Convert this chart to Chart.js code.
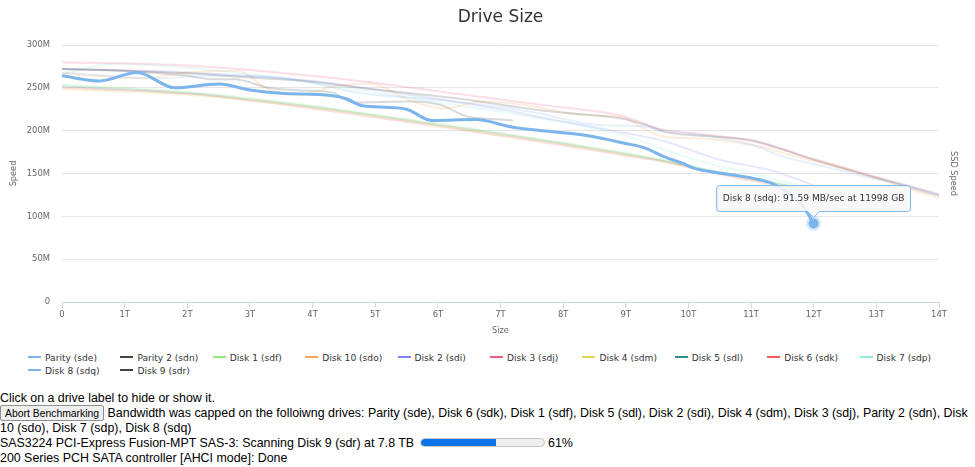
<!DOCTYPE html>
<html><head><meta charset="utf-8">
<script src="https://cdn.jsdelivr.net/npm/chart.js@4.4.0/dist/chart.umd.min.js"></script>
<style>
html,body{margin:0;padding:0;background:#fff;}
body{width:975px;height:467px;overflow:hidden;position:relative;font-family:Arial,"Liberation Sans",sans-serif;font-size:12.4px;color:#000;}
#wrap{position:absolute;left:0;top:0;width:975px;height:345px;}
#legend{position:absolute;left:0;top:345px;width:975px;height:40px;font-family:"DejaVu Sans",sans-serif;font-size:9.1px;color:#333;}
.li{position:absolute;height:13px;line-height:13px;white-space:nowrap;cursor:pointer;}
.li .sym{display:inline-block;width:13px;height:2px;vertical-align:middle;margin-right:4px;position:relative;top:-1px;}
#info{position:absolute;left:0;top:391px;width:975px;line-height:15px;}
#info button{font-family:Arial,"Liberation Sans",sans-serif;font-size:10.4px;height:16px;padding:0 4px;margin:-1px 0 0 0;border:1px solid #8f8f8f;border-radius:2px;background:#efefef;color:#000;vertical-align:top;box-sizing:border-box;line-height:13px;}
.bar{display:inline-block;width:123px;height:7px;border:1px solid #c4c4c4;border-radius:5px;background:#efefef;vertical-align:middle;position:relative;top:-1px;overflow:hidden;margin-left:2px;}
.bar .fill{display:block;height:100%;background:#0a74e8;border-radius:4px 0 0 4px;}
</style></head>
<body>
<div id="wrap"><canvas id="c" width="975" height="345"></canvas></div>
<div id="legend"></div>
<div id="info">
<div id="l1">Click on a drive label to hide or show it.</div>
<div id="l2"><button>Abort Benchmarking</button> <span id="capped"></span></div>
<div id="l3">SAS3224 PCI-Express Fusion-MPT SAS-3: Scanning Disk 9 (sdr) at 7.8 TB <span class="bar"><span class="fill" id="fill"></span></span> <span id="pct"></span></div>
<div id="l4">200 Series PCH SATA controller [AHCI mode]: Done</div>
</div>
<script>
// ---- data (size in GB, speed in MB/sec) ----
const paritySize  = [0,1500,2500,3500,4750,6000,7500,8500,9300,9600,10200,11000,11500,12300,12900,13500,14000];
const paritySpeed = [268,261,264,262,244,236,222,207,205,200,195,184,170,156,145,136,125];

const parity2Size  = [0,1000,2000,3000,4000,4750,6250,7850,8950,9300,9650,10200,11000,12000,13000,14000];
const parity2Speed = [272,270,267,262,257,250,238,222,214,207,198,194,189,166,145,124];

const disk1Size  = [0,2000,4000,4750,6000,7000,8000,9000,9600,10200,11000,12000];
const disk1Speed = [254,245,229,221,208,197,186,174,166,156,145,130];

const disk10Size  = [0,1300,2000,2800,3300,3800,4300,4900,5600,6100,6700,7200,8400,8900,9600,10200,11100,11700,12400,13100,14000];
const disk10Speed = [267,261,268,270,248,242,251,255,234,226,234,232,218,216,193,191,182,170,157,142,121];

const disk2Size  = [0,2000,4000,5000,6000,7000,7900,8800,9600,10500,11300,11900,12000];
const disk2Speed = [272,268,258,248,237,225,212,200,188,166,154,139,136];

const disk3Size  = [0,2000,4750,6300,7900,8900,9600,10200,11000,12000,13000,14000];
const disk3Speed = [280,276,258,243,228,218,201,196,188,167,146,126];

const disk4Size  = [0,2000,4000,6000,8000,9600,10500,11500,12000];
const disk4Speed = [248,242,227,206,184,164,150,136,128];

const disk5Size  = [0,2000,4000,6000,8000,9600,10500,11500,12000];
const disk5Speed = [252,244,228,207,185,165,151,137,129];

const disk6Size  = [0,2000,4000,6000,8000,9000,9600,10500,11500,12000];
const disk6Speed = [250,243,226,205,183,171,164,149,135,127];

const disk7Size  = [0,800,1500,3000,4000,5000,6000,7000,8000,9000,9600,10200,11000,12000];
const disk7Speed = [266,278,276,266,256,245,233,222,210,194,178,164,150,132];

const disk8Size  = [0,600,1200,1800,2500,3000,3500,4300,4550,4750,5100,5500,5900,6600,7200,7800,8400,9000,9300,9600,9900,10100,10550,11050,11350,11600,11800,11900,11998];
const disk8Speed = [264,258,268,250,254.5,247.5,243.6,241,237,230,227.5,225,212,213,204,199,194,185,180,170,162,156,150,144,138,127,114,104,91.59];

const disk9Size  = [0,1000,2000,2400,2750,3300,3800,4300,4650,5550,6050,6450,6800,7200];
const disk9Speed = [272,270,264,260,260,250,247,245,233,234,230,217,214,212];

const driveLabels = ['Parity (sde)','Parity 2 (sdn)','Disk 1 (sdf)','Disk 10 (sdo)','Disk 2 (sdi)','Disk 3 (sdj)','Disk 4 (sdm)','Disk 5 (sdl)','Disk 6 (sdk)','Disk 7 (sdp)','Disk 8 (sdq)','Disk 9 (sdr)'];
const driveSizes  = [paritySize,parity2Size,disk1Size,disk10Size,disk2Size,disk3Size,disk4Size,disk5Size,disk6Size,disk7Size,disk8Size,disk9Size];
const driveSpeeds = [paritySpeed,parity2Speed,disk1Speed,disk10Speed,disk2Speed,disk3Speed,disk4Speed,disk5Speed,disk6Speed,disk7Speed,disk8Speed,disk9Speed];
const palette = ['#7cb5ec','#434348','#90ed7d','#f7a35c','#8085e9','#f15c80','#e4d354','#2b908f','#f45b5b','#91e8e1'];

const xTickValues = [0,1000,2000,3000,4000,5000,6000,7000,8000,9000,10000,11000,12000,13000,14000];
const yTickValues = [0,50,100,150,200,250,300];

const cappedDrives = ['Parity (sde)','Disk 6 (sdk)','Disk 1 (sdf)','Disk 5 (sdl)','Disk 2 (sdi)','Disk 4 (sdm)','Disk 3 (sdj)','Parity 2 (sdn)','Disk 10 (sdo)','Disk 7 (sdp)','Disk 8 (sdq)'];
const scanProgress = 61;
const hoveredDrive = 'Disk 8 (sdq)';

// ---- chart ----
function hexA(hex,a){const n=parseInt(hex.slice(1),16);return `rgba(${n>>16&255},${n>>8&255},${n&255},${a})`;}
const hoverIdx = driveLabels.indexOf(hoveredDrive);
const datasets = driveLabels.map((lab,i)=>{
  const col = palette[i % palette.length];
  const active = i===hoverIdx;
  return {
    label: lab,
    data: driveSizes[i].map((x,k)=>({x:x,y:driveSpeeds[i][k]})),
    borderColor: active ? col : hexA(col,0.2),
    backgroundColor: col,
    borderWidth: active ? 3 : 2,
    pointRadius: 0,
    pointHoverRadius: active ? 5 : 0,
    pointHitRadius: 0,
    pointHoverBackgroundColor: col,
    pointHoverBorderColor: hexA(col,0.3),
    pointHoverBorderWidth: 5,
    cubicInterpolationMode: 'monotone',
    fill: false,
    order: active ? -1 : i,
    yAxisID: 'y'
  };
});

Chart.defaults.font.family = '"DejaVu Sans", sans-serif';
const chart = new Chart(document.getElementById('c'), {
  type: 'line',
  data: {datasets},
  options: {
    responsive: false,
    animation: false,
    events: [],
    layout: {padding: 0},
    plugins: {
      legend: {display: false},
      title: {display: true, fullSize: false, text: 'Drive Size', color: '#333333', font: {size: 17, weight: 'normal'}, padding: {top: 7, bottom: 17.6}},
      tooltip: {
        enabled: true,
        backgroundColor: 'rgba(247,247,247,0.88)',
        borderColor: '#7cb5ec',
        borderWidth: 1,
        bodyColor: '#333333',
        bodyFont: {size: 9.1},
        displayColors: false,
        padding: {left: 6, right: 6, top: 7.5, bottom: 7.5},
        caretSize: 6,
        caretPadding: 6,
        cornerRadius: 3,
        xAlign: 'center',
        yAlign: 'bottom',
        callbacks: {
          title: () => '',
          label: (ctx) => `${ctx.dataset.label}: ${ctx.parsed.y} MB/sec at ${ctx.parsed.x} GB`
        }
      }
    },
    scales: {
      x: {
        type: 'linear', min: 0, max: 14000,
        afterBuildTicks: (s) => { s.ticks = xTickValues.map(v => ({value: v})); },
        afterFit: (s) => { s.height = 43; },
        ticks: {color: '#666666', font: {size: 8.4}, padding: 2, maxRotation: 0, autoSkip: false,
          callback: (v) => v === 0 ? '0' : (v/1000) + 'T'},
        grid: {drawOnChartArea: false, drawTicks: true, tickLength: 6, color: '#ccd6eb'},
        border: {display: true, color: '#ccd6eb'},
        title: {display: true, text: 'Size', color: '#666666', font: {size: 8.2}, padding: {top: 0, bottom: 9.6}}
      },
      y: {
        type: 'linear', position: 'left', min: 0, max: 300,
        afterBuildTicks: (s) => { s.ticks = yTickValues.map(v => ({value: v})); },
        afterFit: (s) => { s.width = 62; },
        ticks: {color: '#666666', font: {size: 8.4}, padding: 12,
          callback: (v) => v === 0 ? '0' : v + 'M'},
        grid: {drawTicks: false, color: '#e6e6e6'},
        border: {display: false},
        title: {display: true, text: 'Speed', color: '#666666', font: {size: 8.2}, padding: {top: 8.6, bottom: 0}}
      },
      y1: {
        type: 'linear', position: 'right', min: 0, max: 300,
        afterFit: (s) => { s.width = 36; },
        ticks: {display: false},
        grid: {display: false, drawOnChartArea: false},
        border: {display: false},
        title: {display: true, text: 'SSD Speed', color: '#666666', font: {size: 8.2}, padding: {top: 16.6, bottom: 0}}
      }
    }
  }
});

const hoverPoint = [{datasetIndex: hoverIdx, index: driveSizes[hoverIdx].length - 1}];
chart.setActiveElements(hoverPoint);
chart.tooltip.setActiveElements(hoverPoint, {x: 0, y: 0});
chart.update();

// ---- HTML legend ----
const legend = document.getElementById('legend');
driveLabels.forEach((lab,i)=>{
  const d = document.createElement('div');
  d.className = 'li';
  d.style.left = (28 + (i % 10) * 92.4) + 'px';
  d.style.top = (6.5 + Math.floor(i / 10) * 13.3) + 'px';
  const s = document.createElement('span');
  s.className = 'sym';
  s.style.background = palette[i % palette.length];
  d.appendChild(s);
  d.appendChild(document.createTextNode(lab));
  d.onclick = () => { const v = chart.isDatasetVisible(i); chart.setDatasetVisibility(i, !v); d.style.color = v ? '#ccc' : '#333'; chart.update(); };
  legend.appendChild(d);
});

document.getElementById('capped').textContent = 'Bandwidth was capped on the folloiwng drives: ' + cappedDrives.join(', ');
document.getElementById('fill').style.width = scanProgress + '%';
document.getElementById('pct').textContent = scanProgress + '%';
</script>
</body></html>
